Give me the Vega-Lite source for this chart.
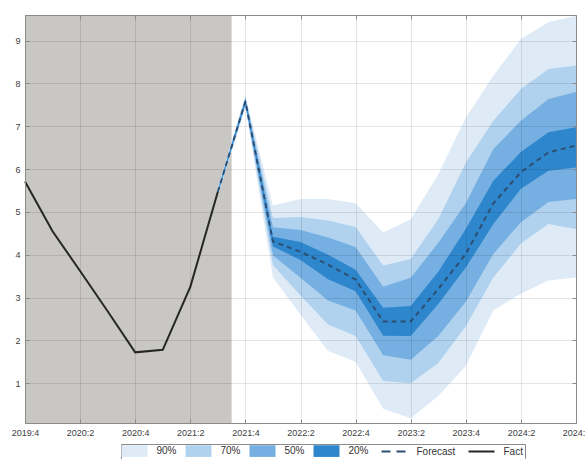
{
  "$schema": "https://vega.github.io/schema/vega-lite/v6.json",
  "width": 551,
  "height": 408,
  "autosize": {"type": "none"},
  "padding": {"left": 25, "top": 15, "right": 9, "bottom": 36},
  "background": "white",
  "config": {
    "view": {"stroke": null},
    "font": "Liberation Sans",
    "axis": {"labelFont": "Liberation Sans", "labelFontSize": 9, "labelColor": "#404040", "title": null}
  },
  "datasets": {
    "shade": [{"x0": 0, "x1": 7.5}],
    "fact": [
      {"t": 0, "v": 5.71}, {"t": 1, "v": 4.55}, {"t": 2, "v": 3.62}, {"t": 3, "v": 2.68},
      {"t": 4, "v": 1.72}, {"t": 5, "v": 1.78}, {"t": 6, "v": 3.25}, {"t": 7, "v": 5.47}
    ],
    "fan": [
      {"t": 7, "med": 5.47, "u20": 5.50, "l20": 5.44, "u50": 5.52, "l50": 5.42, "u70": 5.54, "l70": 5.40, "u90": 5.56, "l90": 5.38},
      {"t": 8, "med": 7.58, "u20": 7.63, "l20": 7.53, "u50": 7.66, "l50": 7.50, "u70": 7.69, "l70": 7.47, "u90": 7.72, "l90": 7.44},
      {"t": 9, "med": 4.31, "u20": 4.42, "l20": 4.19, "u50": 4.64, "l50": 3.98, "u70": 4.86, "l70": 3.76, "u90": 5.15, "l90": 3.47},
      {"t": 10, "med": 4.07, "u20": 4.30, "l20": 3.88, "u50": 4.58, "l50": 3.46, "u70": 4.88, "l70": 3.05, "u90": 5.30, "l90": 2.60},
      {"t": 11, "med": 3.77, "u20": 4.00, "l20": 3.43, "u50": 4.40, "l50": 2.93, "u70": 4.80, "l70": 2.37, "u90": 5.30, "l90": 1.75},
      {"t": 12, "med": 3.42, "u20": 3.65, "l20": 3.15, "u50": 4.18, "l50": 2.70, "u70": 4.65, "l70": 2.10, "u90": 5.20, "l90": 1.50},
      {"t": 13, "med": 2.44, "u20": 2.76, "l20": 2.11, "u50": 3.25, "l50": 1.65, "u70": 3.75, "l70": 1.05, "u90": 4.52, "l90": 0.40},
      {"t": 14, "med": 2.44, "u20": 2.80, "l20": 2.10, "u50": 3.46, "l50": 1.55, "u70": 3.90, "l70": 1.00, "u90": 4.83, "l90": 0.18},
      {"t": 15, "med": 3.20, "u20": 3.60, "l20": 2.85, "u50": 4.28, "l50": 2.10, "u70": 4.83, "l70": 1.47, "u90": 5.88, "l90": 0.70},
      {"t": 16, "med": 4.02, "u20": 4.60, "l20": 3.70, "u50": 5.20, "l50": 2.90, "u70": 6.15, "l70": 2.33, "u90": 7.20, "l90": 1.40},
      {"t": 17, "med": 5.20, "u20": 5.73, "l20": 4.72, "u50": 6.47, "l50": 4.02, "u70": 7.13, "l70": 3.47, "u90": 8.18, "l90": 2.70},
      {"t": 18, "med": 5.93, "u20": 6.40, "l20": 5.54, "u50": 7.13, "l50": 4.76, "u70": 7.87, "l70": 4.26, "u90": 9.04, "l90": 3.09},
      {"t": 19, "med": 6.39, "u20": 6.86, "l20": 5.96, "u50": 7.64, "l50": 5.23, "u70": 8.34, "l70": 4.72, "u90": 9.43, "l90": 3.40},
      {"t": 20, "med": 6.55, "u20": 6.98, "l20": 6.04, "u50": 7.80, "l50": 5.30, "u70": 8.42, "l70": 4.60, "u90": 9.58, "l90": 3.47}
    ]
  },
  "resolve": {"axis": {"x": "independent", "y": "independent"}},
  "layer": [
    {
      "data": {"name": "shade"},
      "mark": {"type": "rect", "color": "#c8c7c4"},
      "encoding": {
        "x": {"field": "x0", "type": "quantitative", "scale": {"domain": [0, 20], "nice": false, "zero": false}, "axis": null},
        "x2": {"field": "x1"}
      }
    },
    {
      "data": {"name": "fan"},
      "mark": {"type": "area"},
      "encoding": {
        "x": {"field": "t", "type": "quantitative",
          "axis": {"orient": "bottom", "values": [0, 2, 4, 6, 8, 10, 12, 14, 16, 18, 20],
            "labelExpr": "(2019 + floor((datum.value + 3) / 4)) + ':' + (((datum.value + 3) % 4) + 1)",
            "labelFlush": false, "labelOverlap": false, "grid": true, "gridColor": "#000000", "gridOpacity": 0.1,
            "domain": true, "domainColor": "#8a8a8a", "ticks": true, "tickSize": -4, "tickColor": "#8a8a8a",
            "labelPadding": 9, "zindex": 1}},
        "y": {"field": "l90", "type": "quantitative", "scale": {"domain": [0.07, 9.6], "nice": false, "zero": false},
          "axis": {"orient": "left", "values": [1, 2, 3, 4, 5, 6, 7, 8, 9], "grid": true, "gridColor": "#000000", "gridOpacity": 0.1,
            "domain": true, "domainColor": "#8a8a8a", "ticks": true, "tickSize": -4, "tickColor": "#8a8a8a",
            "labelPadding": 9, "zindex": 1}},
        "y2": {"field": "u90"},
        "color": {"datum": "90%", "type": "nominal",
          "scale": {"domain": ["90%", "70%", "50%", "20%", "Forecast", "Fact"],
            "range": ["#deebf7", "#b0d2ee", "#76afe1", "#2e86cd", "#2d4f73", "#262626"]},
          "legend": {"orient": "none", "legendX": 96, "legendY": 429, "direction": "horizontal", "title": null,
            "padding": 2, "strokeColor": "#8a8a8a", "fillColor": "#ffffff",
            "labelFont": "Liberation Sans", "labelFontSize": 10, "labelColor": "#333333",
            "symbolSize": 169, "symbolOffset": 6.5, "labelOffset": 17, "columnPadding": 8,
            "encode": {"symbols": {"update": {
              "shape": {"signal": "(datum.value == 'Forecast' || datum.value == 'Fact') ? 'M-2,0H2' : 'M-2,-0.9H2V0.9H-2Z'"},
              "fill": {"signal": "(datum.value == 'Forecast' || datum.value == 'Fact') ? 'transparent' : scale('color', datum.value)"},
              "stroke": {"signal": "scale('color', datum.value)"},
              "strokeWidth": {"signal": "(datum.value == 'Forecast' || datum.value == 'Fact') ? 2 : 0"},
              "strokeDash": {"signal": "datum.value == 'Forecast' ? [9, 6] : [1, 0]"},
              "size": {"value": 169},
              "opacity": {"value": 1}
            }}}}
        }
      }
    },
    {
      "data": {"name": "fan"},
      "mark": {"type": "area"},
      "encoding": {
        "x": {"field": "t", "type": "quantitative", "axis": null},
        "y": {"field": "l70", "type": "quantitative", "axis": null},
        "y2": {"field": "u70"},
        "color": {"datum": "70%", "type": "nominal"}
      }
    },
    {
      "data": {"name": "fan"},
      "mark": {"type": "area"},
      "encoding": {
        "x": {"field": "t", "type": "quantitative", "axis": null},
        "y": {"field": "l50", "type": "quantitative", "axis": null},
        "y2": {"field": "u50"},
        "color": {"datum": "50%", "type": "nominal"}
      }
    },
    {
      "data": {"name": "fan"},
      "mark": {"type": "area"},
      "encoding": {
        "x": {"field": "t", "type": "quantitative", "axis": null},
        "y": {"field": "l20", "type": "quantitative", "axis": null},
        "y2": {"field": "u20"},
        "color": {"datum": "20%", "type": "nominal"}
      }
    },
    {
      "data": {"name": "fan"},
      "mark": {"type": "line", "strokeWidth": 2, "strokeDash": [5, 4]},
      "encoding": {
        "x": {"field": "t", "type": "quantitative", "axis": null},
        "y": {"field": "med", "type": "quantitative", "axis": null},
        "color": {"datum": "Forecast", "type": "nominal"}
      }
    },
    {
      "data": {"name": "fact"},
      "mark": {"type": "line", "strokeWidth": 2},
      "encoding": {
        "x": {"field": "t", "type": "quantitative",
          "axis": {"orient": "top", "values": [0, 2, 4, 6, 8, 10, 12, 14, 16, 18, 20], "labels": false, "grid": false,
            "domain": true, "domainColor": "#8a8a8a", "ticks": true, "tickSize": -4, "tickColor": "#8a8a8a", "zindex": 1}},
        "y": {"field": "v", "type": "quantitative",
          "axis": {"orient": "right", "values": [1, 2, 3, 4, 5, 6, 7, 8, 9], "labels": false, "grid": false,
            "domain": true, "domainColor": "#8a8a8a", "ticks": true, "tickSize": -4, "tickColor": "#8a8a8a", "zindex": 1}},
        "color": {"datum": "Fact", "type": "nominal"}
      }
    }
  ]
}
